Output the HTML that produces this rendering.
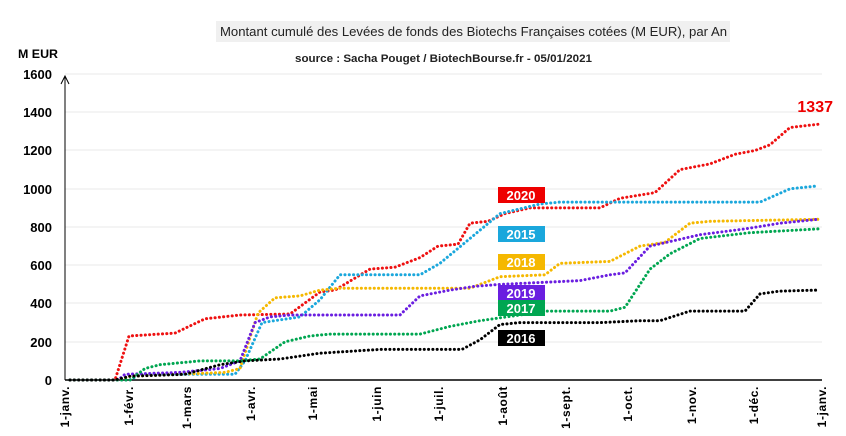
<!DOCTYPE html>
<html><head><meta charset="utf-8"><style>
body{margin:0;background:#fff;width:846px;height:436px;overflow:hidden}
svg{display:block;font-family:"Liberation Sans",Arial,sans-serif}
</style></head><body>
<svg id="s" width="846" height="436" xmlns="http://www.w3.org/2000/svg">
<rect x="216" y="21" width="514" height="21" fill="#f0f0f0"/>
<text x="220" y="36" font-size="13" textLength="507" lengthAdjust="spacingAndGlyphs" fill="#222">Montant cumulé des Levées de fonds des Biotechs Françaises cotées (M EUR), par An</text>
<text x="295" y="62" font-size="11" font-weight="bold" textLength="297" lengthAdjust="spacingAndGlyphs" fill="#222">source : Sacha Pouget / BiotechBourse.fr - 05/01/2021</text>
<text x="18" y="58" font-size="12" font-weight="bold" textLength="40" lengthAdjust="spacingAndGlyphs" fill="#000">M EUR</text>
<g stroke="#e8e8e8" stroke-width="1">
<line x1="65" x2="822" y1="74" y2="74"/><line x1="65" x2="822" y1="112" y2="112"/><line x1="65" x2="822" y1="150" y2="150"/><line x1="65" x2="822" y1="189" y2="189"/><line x1="65" x2="822" y1="227" y2="227"/><line x1="65" x2="822" y1="265" y2="265"/><line x1="65" x2="822" y1="303" y2="303"/><line x1="65" x2="822" y1="342" y2="342"/>
</g>
<g font-size="13" font-weight="bold" text-anchor="end" fill="#000">
<text x="52" y="79">1600</text><text x="52" y="117">1400</text><text x="52" y="155">1200</text><text x="52" y="194">1000</text><text x="52" y="232">800</text><text x="52" y="270">600</text><text x="52" y="308">400</text><text x="52" y="347">200</text><text x="52" y="385">0</text>
</g>
<line x1="65" y1="380" x2="65" y2="76" stroke="#000" stroke-width="1"/>
<polyline points="61,84 65,76 69,84" fill="none" stroke="#000"/>
<line x1="65" y1="380" x2="822" y2="380" stroke="#000" stroke-width="1.5"/>
<g id="lines"></g>
<g id="xl" font-size="12" font-weight="bold" fill="#000"></g>
<text x="833" y="112" font-size="16" font-weight="bold" fill="#e00" text-anchor="end">1337</text>
<rect x="498" y="187" width="47" height="16" fill="#e00"/><text x="521" y="200" font-size="13" font-weight="bold" fill="#fff" text-anchor="middle">2020</text>
<rect x="498" y="226" width="47" height="16" fill="#1aa7dc"/><text x="521" y="239" font-size="13" font-weight="bold" fill="#fff" text-anchor="middle">2015</text>
<rect x="498" y="254" width="47" height="16" fill="#f5b800"/><text x="521" y="267" font-size="13" font-weight="bold" fill="#fff" text-anchor="middle">2018</text>
<rect x="498" y="285" width="47" height="16" fill="#6a1ee0"/><text x="521" y="298" font-size="13" font-weight="bold" fill="#fff" text-anchor="middle">2019</text>
<rect x="498" y="300" width="47" height="16" fill="#00a651"/><text x="521" y="313" font-size="13" font-weight="bold" fill="#fff" text-anchor="middle">2017</text>
<rect x="498" y="330" width="47" height="16" fill="#000"/><text x="521" y="343" font-size="13" font-weight="bold" fill="#fff" text-anchor="middle">2016</text>
</svg>
<script>
var S={
"#ee1111":[[70,0],[115,0],[129,230],[175,245],[205,320],[240,340],[290,345],[320,460],[335,470],[370,580],[395,590],[420,640],[438,700],[458,710],[470,820],[488,830],[505,870],[530,900],[600,900],[620,950],[655,980],[680,1100],[710,1130],[735,1180],[755,1200],[770,1230],[790,1320],[818,1337]],
"#1aa7dc":[[70,0],[130,0],[140,30],[235,30],[245,100],[262,300],[300,330],[320,420],[340,550],[420,550],[440,610],[500,870],[540,920],[560,930],[760,930],[790,1000],[818,1015]],
"#f5b800":[[70,0],[120,0],[130,20],[225,40],[240,60],[258,350],[275,430],[300,440],[320,470],[340,480],[470,480],[500,540],[545,550],[560,610],[610,620],[640,700],[665,720],[690,820],[710,830],[818,840]],
"#6a1ee0":[[70,0],[118,0],[125,30],[180,40],[220,60],[240,100],[255,300],[270,330],[290,340],[400,340],[420,440],[450,470],[475,490],[500,500],[540,510],[580,520],[610,550],[625,560],[650,700],[700,760],[745,790],[780,820],[818,840]],
"#00a651":[[70,0],[130,0],[145,60],[160,80],[200,100],[240,100],[260,110],[285,200],[310,230],[330,240],[420,240],[450,280],[480,310],[520,340],[545,360],[610,360],[625,380],[650,580],[670,660],[700,740],[750,770],[818,790]],
"#000000":[[70,0],[115,0],[130,20],[185,30],[220,80],[245,100],[280,110],[320,140],[380,160],[462,160],[480,210],[500,290],[520,300],[600,300],[640,310],[660,310],[690,360],[745,360],[760,450],[780,465],[818,470]]};
var g=document.getElementById('lines'),h='';
for(var c in S){h+='<polyline fill="none" stroke="'+c+'" stroke-width="3" stroke-dasharray="0.1 4.2" stroke-linecap="round" points="'+S[c].map(function(p){return p[0]+','+(380-p[1]*0.19125).toFixed(1)}).join(' ')+'"/>';}
g.innerHTML=h;
var m=["1-janv.","1-févr.","1-mars","1-avr.","1-mai","1-juin","1-juil.","1-août","1-sept.","1-oct.","1-nov.","1-déc.","1-janv."],
x=[65,129,187,251,313,377,439,503,566,628,692,754,822],t='';
for(var i=0;i<m.length;i++){t+='<text transform="translate('+(x[i]+4)+',386) rotate(-90)" text-anchor="end" letter-spacing="0.6">'+m[i]+'</text>';}
document.getElementById('xl').innerHTML=t;
</script>
</body></html>
